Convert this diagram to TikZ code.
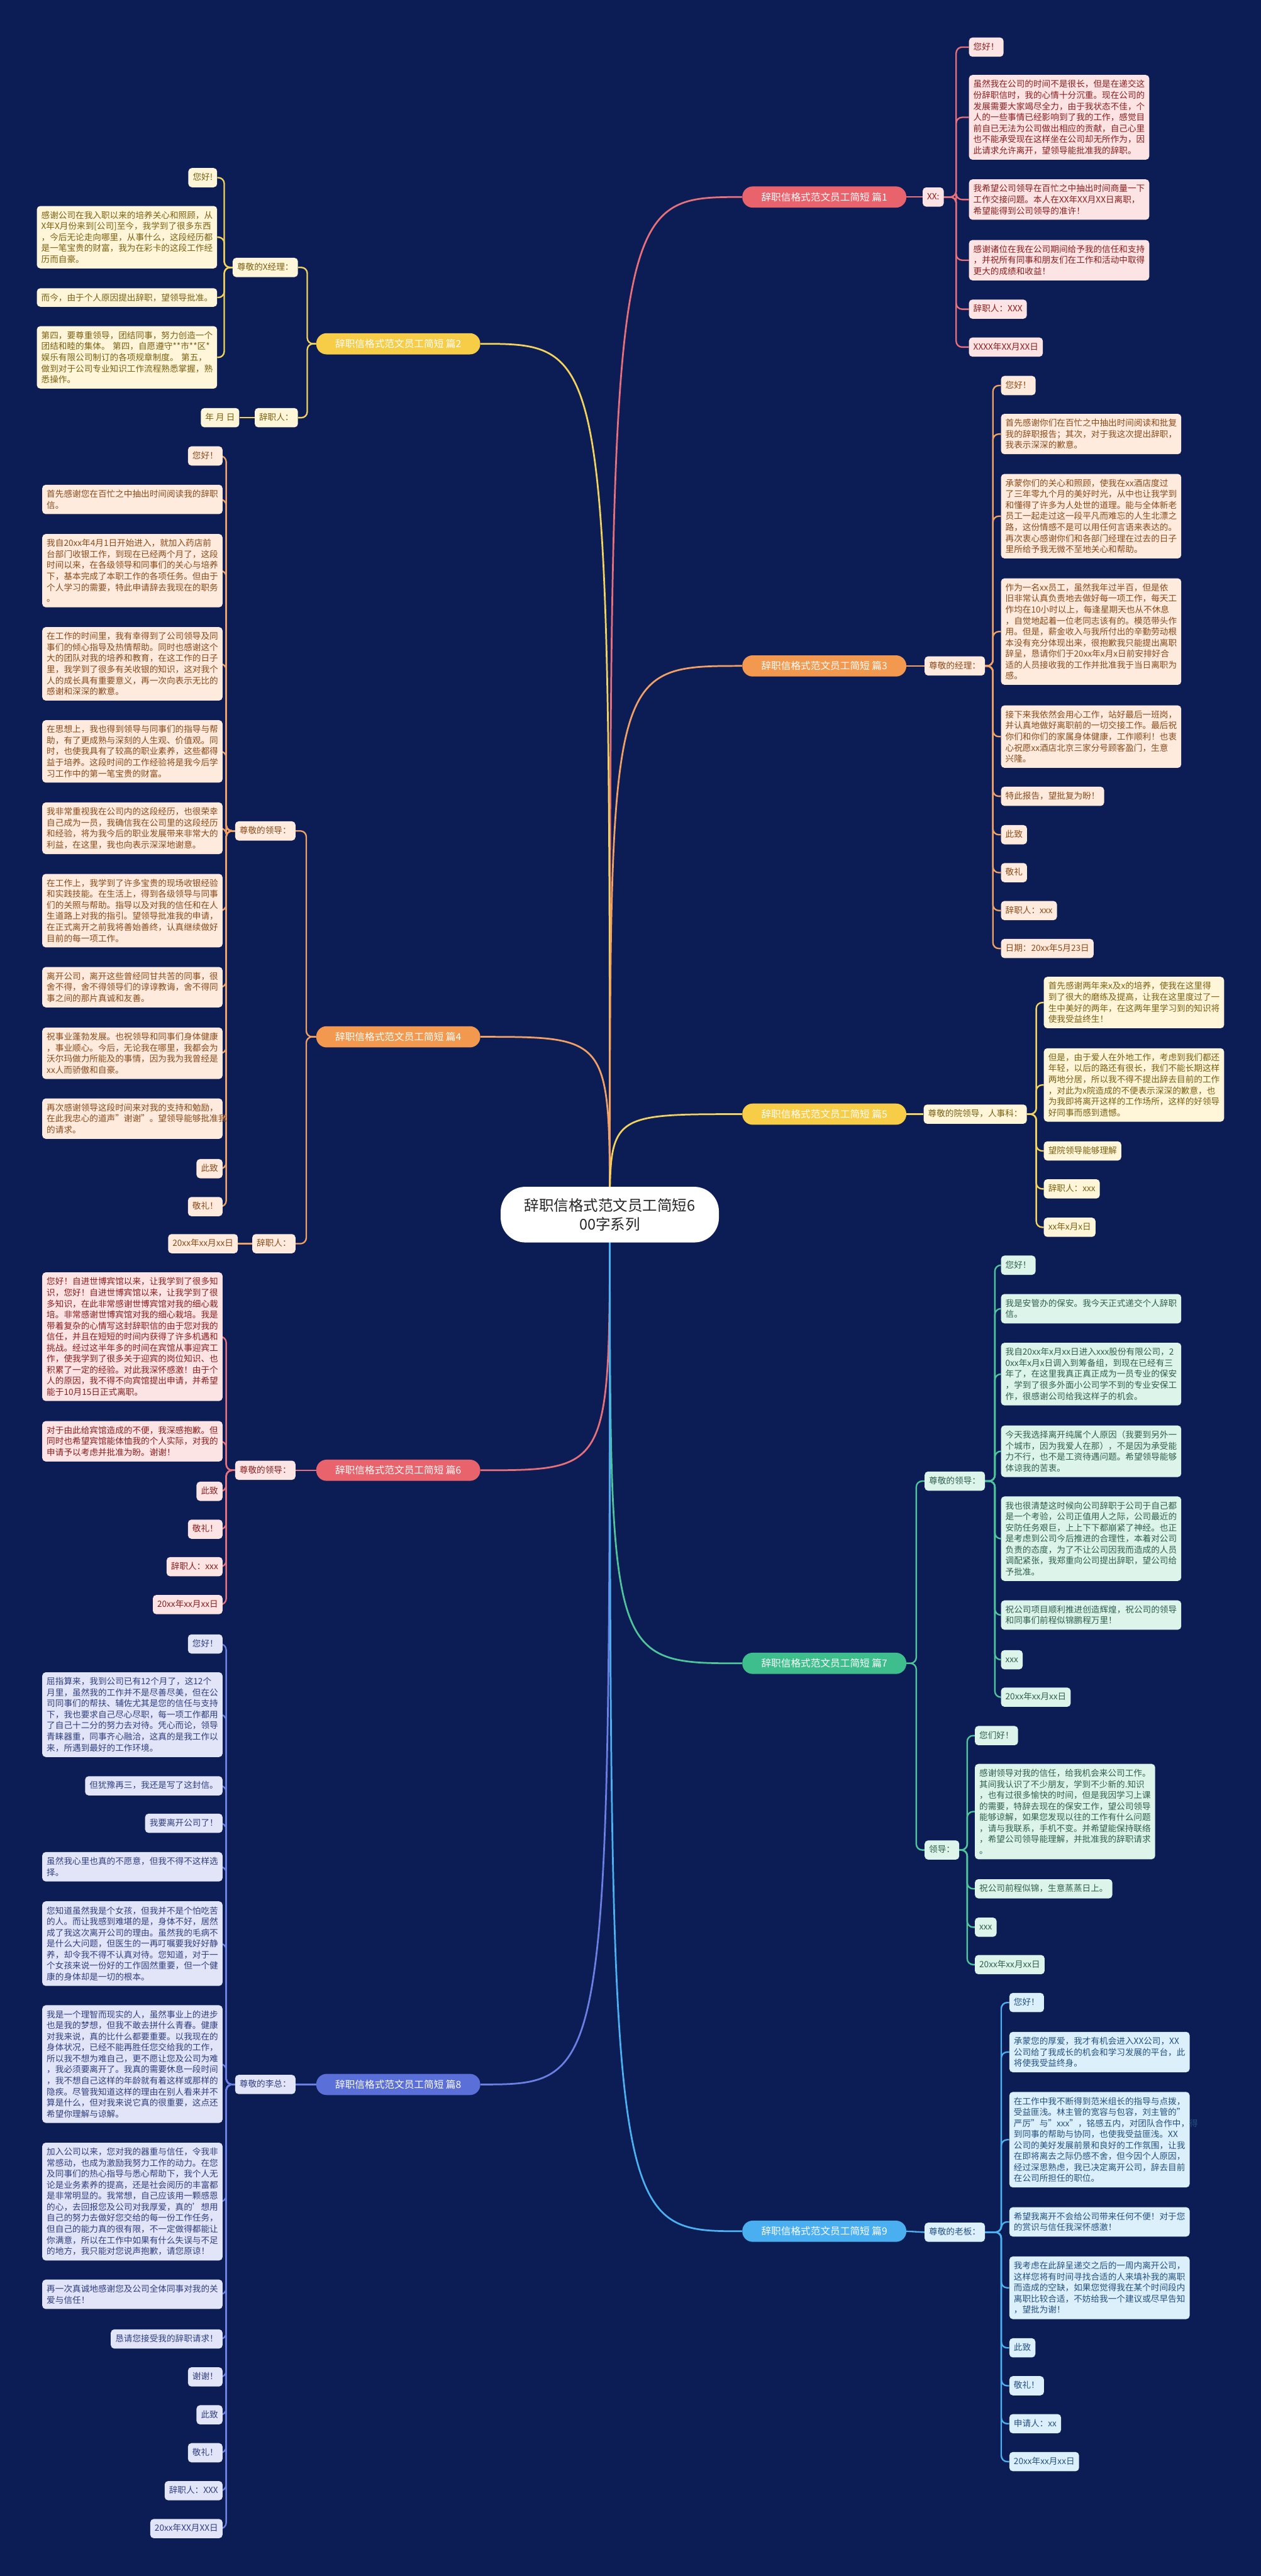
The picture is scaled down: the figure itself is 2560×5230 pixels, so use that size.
\documentclass[tikz,border=0pt]{standalone}
\usepackage{fontspec}
\setmainfont{Noto Sans CJK SC}
\pgfdeclarelayer{bg}\pgfdeclarelayer{lines}
\pgfsetlayers{bg,lines,main}
\definecolor{bgc}{HTML}{0C1C54}
\definecolor{lR}{HTML}{E8707A}\definecolor{fR}{HTML}{FCE4E4}\definecolor{tR}{HTML}{8B1E1E}\definecolor{pR}{HTML}{E8636C}
\definecolor{lY}{HTML}{F2D35B}\definecolor{fY}{HTML}{FFF6DA}\definecolor{tY}{HTML}{7A6010}\definecolor{pY}{HTML}{F7CC47}
\definecolor{lO}{HTML}{F2A165}\definecolor{fO}{HTML}{FEEBDD}\definecolor{tO}{HTML}{8A4A1A}\definecolor{pO}{HTML}{F3994F}
\definecolor{lG}{HTML}{4FC59B}\definecolor{fG}{HTML}{DDF4EB}\definecolor{tG}{HTML}{2F5F50}\definecolor{pG}{HTML}{3EBE8D}
\definecolor{lB}{HTML}{6C80E4}\definecolor{fB}{HTML}{E2E5F8}\definecolor{tB}{HTML}{303E80}\definecolor{pB}{HTML}{5B6FD8}
\definecolor{lC}{HTML}{4BB1F0}\definecolor{fC}{HTML}{DCF0FC}\definecolor{tC}{HTML}{235080}\definecolor{pC}{HTML}{4AAFF0}
\tikzset{
  lf/.style={rounded corners=7pt, inner xsep=9pt, inner ysep=10.5pt, font=\fontsize{17.4}{22.4}\selectfont, align=left},
  one/.style={lf, text height=14.5pt, text depth=3.5pt},
  par/.style={lf, text width=348pt},
  R/.style={anchor=north west},
  L/.style={anchor=north east},
  thR/.style={fill=fR, text=tR}, thY/.style={fill=fY, text=tY}, thO/.style={fill=fO, text=tO},
  thG/.style={fill=fG, text=tG}, thB/.style={fill=fB, text=tB}, thC/.style={fill=fC, text=tC},
  pl/.style={rounded corners=21pt, minimum height=43pt, minimum width=333pt, inner sep=0pt, text=white, font=\fontsize{20}{24}\selectfont},
  ctr/.style={fill=white, rounded corners=50pt, minimum width=443pt, minimum height=113pt, align=center, text=black!85, font=\fontsize{30}{38}\selectfont},
  con/.style={line width=3pt, rounded corners=12pt},
  mcon/.style={line width=3.5pt},
}
\begin{document}
\begin{tikzpicture}[x=1pt,y=-1pt]
\begin{pgfonlayer}{bg}
\fill[bgc] (0,0) rectangle (2560,5230);
\end{pgfonlayer}
\useasboundingbox (0,0) rectangle (2560,5230);

% root and main branches
\node[ctr] (root) at (1238,2466) {辞职信格式范文员工简短6\\00字系列};
\node[pl, fill=pR] (p1) at (1673.5,400) {辞职信格式范文员工简短 篇1};
\node[pl, fill=pY] (p2) at (808.5,698) {辞职信格式范文员工简短 篇2};
\node[pl, fill=pO] (p3) at (1673.5,1352) {辞职信格式范文员工简短 篇3};
\node[pl, fill=pO] (p4) at (808.5,2105) {辞职信格式范文员工简短 篇4};
\node[pl, fill=pY] (p5) at (1673.5,2262) {辞职信格式范文员工简短 篇5};
\node[pl, fill=pR] (p6) at (808.5,2985) {辞职信格式范文员工简短 篇6};
\node[pl, fill=pG] (p7) at (1673.5,3377) {辞职信格式范文员工简短 篇7};
\node[pl, fill=pB] (p8) at (808.5,4232) {辞职信格式范文员工简短 篇8};
\node[pl, fill=pC] (p9) at (1673.5,4530) {辞职信格式范文员工简短 篇9};

% ---------- branch 1
\node[one,thR,anchor=west] (b1x) at (1873,400) {XX:};
\node[one,thR,R] (b1a) at (1967,76) {您好！};
\node[par,thR,R] (b1b) at (1967,152) {虽然我在公司的时间不是很长，但是在递交这\\份辞职信时，我的心情十分沉重。现在公司的\\发展需要大家竭尽全力，由于我状态不佳，个\\人的一些事情已经影响到了我的工作，感觉目\\前自已无法为公司做出相应的贡献，自己心里\\也不能承受现在这样坐在公司却无所作为，因\\此请求允许离开，望领导能批准我的辞职。};
\node[par,thR,R] (b1c) at (1967,364) {我希望公司领导在百忙之中抽出时间商量一下\\工作交接问题。本人在XX年XX月XX日离职，\\希望能得到公司领导的准许！};
\node[par,thR,R] (b1d) at (1967,487) {感谢诸位在我在公司期间给予我的信任和支持\\，并祝所有同事和朋友们在工作和活动中取得\\更大的成绩和收益！};
\node[one,thR,R] (b1e) at (1967,608) {辞职人：XXX};
\node[one,thR,R] (b1f) at (1967,685) {XXXX年XX月XX日};

% ---------- branch 2
\node[one,thY,anchor=east] (b2x) at (605,543) {尊敬的X经理：};
\node[one,thY,anchor=east] (b2y) at (605,848) {辞职人：};
\node[one,thY,anchor=east] (b2z) at (486,848) {年 月 日};
\node[one,thY,L] (b2a) at (441,341) {您好!};
\node[par,thY,L] (b2b) at (441,418) {感谢公司在我入职以来的培养关心和照顾，从\\X年X月份来到[公司]至今，我学到了很多东西\\，今后无论走向哪里，从事什么，这段经历都\\是一笔宝贵的财富，我为在彩卡的这段工作经\\历而自豪。};
\node[par,thY,L] (b2c) at (441,585) {而今，由于个人原因提出辞职，望领导批准。};
\node[par,thY,L] (b2d) at (441,662) {第四，要尊重领导，团结同事，努力创造一个\\团结和睦的集体。~第四，自愿遵守**市**区*\\*娱乐有限公司制订的各项规章制度。~第五，\\做到对于公司专业知识工作流程熟悉掌握，熟\\悉操作。};

% ---------- branch 3
\node[one,thO,anchor=west] (b3x) at (1877,1352) {尊敬的经理：};
\node[one,thO,R] (b3a) at (2032,763) {您好！};
\node[par,thO,R] (b3b) at (2032,840) {首先感谢你们在百忙之中抽出时间阅读和批复\\我的辞职报告；其次，对于我这次提出辞职，\\我表示深深的歉意。};
\node[par,thO,R] (b3c) at (2032,962) {承蒙你们的关心和照顾，使我在xx酒店度过\\了三年零九个月的美好时光，从中也让我学到\\和懂得了许多为人处世的道理。能与全体新老\\员工一起走过这一段平凡而难忘的人生北漂之\\路，这份情感不是可以用任何言语来表达的。\\再次衷心感谢你们和各部门经理在过去的日子\\里所给予我无微不至地关心和帮助。};
\node[par,thO,R] (b3d) at (2032,1174) {作为一名xx员工，虽然我年过半百，但是依\\旧非常认真负责地去做好每一项工作，每天工\\作均在10小时以上，每逢星期天也从不休息\\，自觉地起着一位老同志该有的。模范带头作\\用。但是，薪金收入与我所付出的辛勤劳动根\\本没有充分体现出来，很抱歉我只能提出离职\\辞呈，恳请你们于20xx年x月x日前安排好合\\适的人员接收我的工作并批准我于当日离职为\\感。};
\node[par,thO,R] (b3e) at (2032,1432) {接下来我依然会用心工作，站好最后一班岗，\\并认真地做好离职前的一切交接工作。最后祝\\你们和你们的家属身体健康，工作顺利！也衷\\心祝愿xx酒店北京三家分号顾客盈门，生意\\兴隆。};
\node[one,thO,R] (b3f) at (2032,1597) {特此报告，望批复为盼！};
\node[one,thO,R] (b3g) at (2032,1675) {此致};
\node[one,thO,R] (b3h) at (2032,1752) {敬礼};
\node[one,thO,R] (b3i) at (2032,1829) {辞职人：xxx};
\node[one,thO,R] (b3j) at (2032,1906) {日期：20xx年5月23日};

% ---------- branch 4
\node[one,thO,anchor=east] (b4x) at (600,1687) {尊敬的领导：};
\node[one,thO,anchor=east] (b4y) at (600,2525) {辞职人：};
\node[one,thO,anchor=east] (b4z) at (483,2525) {20xx年xx月xx日};
\node[one,thO,L] (b4a) at (452,906) {您好！};
\node[par,thO,L] (b4b) at (452,984) {首先感谢您在百忙之中抽出时间阅读我的辞职\\信。};
\node[par,thO,L] (b4c) at (452,1084) {我自20xx年4月1日开始进入，就加入药店前\\台部门收银工作，到现在已经两个月了，这段\\时间以来，在各级领导和同事们的关心与培养\\下，基本完成了本职工作的各项任务。但由于\\个人学习的需要，特此申请辞去我现在的职务\\。};
\node[par,thO,L] (b4d) at (452,1273) {在工作的时间里，我有幸得到了公司领导及同\\事们的倾心指导及热情帮助。同时也感谢这个\\大的团队对我的培养和教育，在这工作的日子\\里，我学到了很多有关收银的知识，这对我个\\人的成长具有重要意义，再一次向表示无比的\\感谢和深深的歉意。};
\node[par,thO,L] (b4e) at (452,1462) {在思想上，我也得到领导与同事们的指导与帮\\助，有了更成熟与深刻的人生观、价值观。同\\时，也使我具有了较高的职业素养，这些都得\\益于培养。这段时间的工作经验将是我今后学\\习工作中的第一笔宝贵的财富。};
\node[par,thO,L] (b4f) at (452,1629) {我非常重视我在公司内的这段经历，也很荣幸\\自己成为一员，我确信我在公司里的这段经历\\和经验，将为我今后的职业发展带来非常大的\\利益，在这里，我也向表示深深地谢意。};
\node[par,thO,L] (b4g) at (452,1774) {在工作上，我学到了许多宝贵的现场收银经验\\和实践技能。在生活上，得到各级领导与同事\\们的关照与帮助。指导以及对我的信任和在人\\生道路上对我的指引。望领导批准我的申请，\\在正式离开之前我将善始善终，认真继续做好\\目前的每一项工作。};
\node[par,thO,L] (b4h) at (452,1963) {离开公司，离开这些曾经同甘共苦的同事，很\\舍不得，舍不得领导们的谆谆教诲，舍不得同\\事之间的那片真诚和友善。};
\node[par,thO,L] (b4i) at (452,2086) {祝事业蓬勃发展。也祝领导和同事们身体健康\\，事业顺心。今后，无论我在哪里，我都会为\\沃尔玛做力所能及的事情，因为我为我曾经是\\xx人而骄傲和自豪。};
\node[par,thO,L] (b4j) at (452,2230) {再次感谢领导这段时间来对我的支持和勉励，\\在此我忠心的道声"谢谢"。望领导能够批准我\\的请求。};
\node[one,thO,L] (b4k) at (452,2353) {此致};
\node[one,thO,L] (b4l) at (452,2430) {敬礼！};

% ---------- branch 5
\node[one,thY,anchor=west] (b5x) at (1875,2262) {尊敬的院领导，人事科：};
\node[par,thY,R] (b5a) at (2119,1983) {首先感谢两年来x及x的培养，使我在这里得\\到了很大的磨练及提高，让我在这里度过了一\\生中美好的两年，在这两年里学习到的知识将\\使我受益终生！};
\node[par,thY,R] (b5b) at (2119,2128) {但是，由于爱人在外地工作，考虑到我们都还\\年轻，以后的路还有很长，我们不能长期这样\\两地分居，所以我不得不提出辞去目前的工作\\，对此为x院造成的不便表示深深的歉意，也\\为我即将离开这样的工作场所，这样的好领导\\好同事而感到遗憾。};
\node[one,thY,R] (b5c) at (2119,2317) {望院领导能够理解};
\node[one,thY,R] (b5d) at (2119,2394) {辞职人：xxx};
\node[one,thY,R] (b5e) at (2119,2472) {xx年x月x日};

% ---------- branch 6
\node[one,thR,anchor=east] (b6x) at (600,2985) {尊敬的领导：};
\node[par,thR,L] (b6a) at (452,2583) {您好！自进世博宾馆以来，让我学到了很多知\\识，您好！自进世博宾馆以来，让我学到了很\\多知识，在此非常感谢世博宾馆对我的细心栽\\培。非常感谢世博宾馆对我的细心栽培。我是\\带着复杂的心情写这封辞职信的由于您对我的\\信任，并且在短短的时间内获得了许多机遇和\\挑战。经过这半年多的时间在宾馆从事迎宾工\\作，使我学到了很多关于迎宾的岗位知识、也\\积累了一定的经验。对此我深怀感激！由于个\\人的原因，我不得不向宾馆提出申请，并希望\\能于10月15日正式离职。};
\node[par,thR,L] (b6b) at (452,2885) {对于由此给宾馆造成的不便，我深感抱歉。但\\同时也希望宾馆能体恤我的个人实际，对我的\\申请予以考虑并批准为盼。谢谢！};
\node[one,thR,L] (b6c) at (452,3008) {此致};
\node[one,thR,L] (b6d) at (452,3085) {敬礼！};
\node[one,thR,L] (b6e) at (452,3161) {辞职人：xxx};
\node[one,thR,L] (b6f) at (452,3238) {20xx年xx月xx日};

% ---------- branch 7
\node[one,thG,anchor=west] (b7x) at (1877,3007) {尊敬的领导：};
\node[one,thG,anchor=west] (b7y) at (1877,3756) {领导：};
\node[one,thG,R] (b7a) at (2032,2549) {您好！};
\node[par,thG,R] (b7b) at (2032,2627) {我是安管办的保安。我今天正式递交个人辞职\\信。};
\node[par,thG,R] (b7c) at (2032,2726) {我自20xx年x月xx日进入xxx股份有限公司，2\\0xx年x月x日调入到筹备组，到现在已经有三\\年了，在这里我真正真正成为一员专业的保安\\，学到了很多外面小公司学不到的专业安保工\\作，很感谢公司给我这样子的机会。};
\node[par,thG,R] (b7d) at (2032,2894) {今天我选择离开纯属个人原因（我要到另外一\\个城市，因为我爱人在那），不是因为承受能\\力不行，也不是工资待遇问题。希望领导能够\\体谅我的苦衷。};
\node[par,thG,R] (b7e) at (2032,3038) {我也很清楚这时候向公司辞职于公司于自己都\\是一个考验，公司正值用人之际，公司最近的\\安防任务艰巨，上上下下都崩紧了神经。也正\\是考虑到公司今后推进的合理性，本着对公司\\负责的态度，为了不让公司因我而造成的人员\\调配紧张，我郑重向公司提出辞职，望公司给\\予批准。};
\node[par,thG,R] (b7f) at (2032,3249) {祝公司项目顺利推进创造辉煌，祝公司的领导\\和同事们前程似锦鹏程万里！};
\node[one,thG,R] (b7g) at (2032,3350) {xxx};
\node[one,thG,R] (b7h) at (2032,3426) {20xx年xx月xx日};
\node[one,thG,R] (b7i) at (1979,3504) {您们好！};
\node[par,thG,R] (b7j) at (1979,3581) {感谢领导对我的信任，给我机会来公司工作。\\其间我认识了不少朋友，学到不少新的.知识\\，也有过很多愉快的时间，但是我因学习上课\\的需要，特辞去现在的保安工作，望公司领导\\能够谅解，如果您发现以往的工作有什么问题\\，请与我联系，手机不变。并希望能保持联络\\，希望公司领导能理解，并批准我的辞职请求\\。};
\node[one,thG,R] (b7k) at (1979,3815) {祝公司前程似锦，生意蒸蒸日上。};
\node[one,thG,R] (b7l) at (1979,3893) {xxx};
\node[one,thG,R] (b7m) at (1979,3969) {20xx年xx月xx日};

% ---------- branch 8
\node[one,thB,anchor=east] (b8x) at (600,4232) {尊敬的李总：};
\node[one,thB,L] (b8a) at (452,3318) {您好！};
\node[par,thB,L] (b8b) at (452,3395) {屈指算来，我到公司已有12个月了，这12个\\月里，虽然我的工作并不是尽善尽美，但在公\\司同事们的帮扶、辅佐尤其是您的信任与支持\\下，我也要求自己尽心尽职，每一项工作都用\\了自己十二分的努力去对待。凭心而论，领导\\青睐器重，同事齐心融洽，这真的是我工作以\\来，所遇到最好的工作环境。};
\node[one,thB,L] (b8c) at (452,3606) {但犹豫再三，我还是写了这封信。};
\node[one,thB,L] (b8d) at (452,3682) {我要离开公司了！};
\node[par,thB,L] (b8e) at (452,3760) {虽然我心里也真的不愿意，但我不得不这样选\\择。};
\node[par,thB,L] (b8f) at (452,3860) {您知道虽然我是个女孩，但我并不是个怕吃苦\\的人。而让我感到难堪的是，身体不好，居然\\成了我这次离开公司的理由。虽然我的毛病不\\是什么大问题，但医生的一再叮嘱要我好好静\\养，却令我不得不认真对待。您知道，对于一\\个女孩来说一份好的工作固然重要，但一个健\\康的身体却是一切的根本。};
\node[par,thB,L] (b8g) at (452,4071) {我是一个理智而现实的人，虽然事业上的进步\\也是我的梦想，但我不敢去拼什么青春。健康\\对我来说，真的比什么都要重要。以我现在的\\身体状况，已经不能再胜任您交给我的工作，\\所以我不想为难自己，更不愿让您及公司为难\\，我必须要离开了。我真的需要休息一段时间\\，我不想自己这样的年龄就有着这样或那样的\\隐疾。尽管我知道这样的理由在别人看来并不\\算是什么，但对我来说它真的很重要，这点还\\希望你理解与谅解。};
\node[par,thB,L] (b8h) at (452,4350) {加入公司以来，您对我的器重与信任，令我非\\常感动，也成为激励我努力工作的动力。在您\\及同事们的热心指导与悉心帮助下，我个人无\\论是业务素养的提高，还是社会阅历的丰富都\\是非常明显的。我常想，自己应该用一颗感恩\\的心，去回报您及公司对我厚爱，真的'想用\\自己的努力去做好您交给的每一份工作任务，\\但自己的能力真的很有限，不一定做得都能让\\你满意，所以在工作中如果有什么失误与不足\\的地方，我只能对您说声抱歉，请您原谅！};
\node[par,thB,L] (b8i) at (452,4628) {再一次真诚地感谢您及公司全体同事对我的关\\爱与信任！};
\node[one,thB,L] (b8j) at (452,4729) {恳请您接受我的辞职请求！};
\node[one,thB,L] (b8k) at (452,4806) {谢谢！};
\node[one,thB,L] (b8l) at (452,4883) {此致};
\node[one,thB,L] (b8m) at (452,4960) {敬礼！};
\node[one,thB,L] (b8n) at (452,5037) {辞职人：XXX};
\node[one,thB,L] (b8o) at (452,5114) {20xx年XX月XX日};

% ---------- branch 9
\node[one,thC,anchor=west] (b9x) at (1877,4532) {尊敬的老板：};
\node[one,thC,R] (b9a) at (2049,4046) {您好！};
\node[par,thC,R] (b9b) at (2049,4125) {承蒙您的厚爱，我才有机会进入XX公司，XX\\公司给了我成长的机会和学习发展的平台，此\\将使我受益终身。};
\node[par,thC,R] (b9c) at (2049,4247) {在工作中我不断得到范米组长的指导与点拨，\\受益匪浅。林主管的宽容与包容，刘主管的"\\严厉"与"xxx"，铭感五内，对团队合作中，得\\到同事的帮助与协同，也使我受益匪浅。XX\\公司的美好发展前景和良好的工作氛围，让我\\在即将离去之际仍感不舍，但今因个人原因，\\经过深思熟虑，我已决定离开公司，辞去目前\\在公司所担任的职位。};
\node[par,thC,R] (b9d) at (2049,4481) {希望我离开不会给公司带来任何不便！对于您\\的赏识与信任我深怀感激！};
\node[par,thC,R] (b9e) at (2049,4581) {我考虑在此辞呈递交之后的一周内离开公司，\\这样您将有时间寻找合适的人来填补我的离职\\而造成的空缺，如果您觉得我在某个时间段内\\离职比较合适，不妨给我一个建议或尽早告知\\，望批为谢！};
\node[one,thC,R] (b9f) at (2049,4747) {此致};
\node[one,thC,R] (b9g) at (2049,4824) {敬礼！};
\node[one,thC,R] (b9h) at (2049,4901) {申请人：xx};
\node[one,thC,R] (b9i) at (2049,4978) {20xx年xx月xx日};

% ---------- connectors
\begin{pgfonlayer}{lines}
\draw[mcon,lR] (root.center) .. controls (root.center |- p1.west) .. (p1.west);
\draw[mcon,lY] (root.center) .. controls (root.center |- p2.east) .. (p2.east);
\draw[mcon,lO] (root.center) .. controls (root.center |- p3.west) .. (p3.west);
\draw[mcon,lO] (root.center) .. controls (root.center |- p4.east) .. (p4.east);
\draw[mcon,lY] (root.center) .. controls (root.center |- p5.west) .. (p5.west);
\draw[mcon,lR] (root.center) .. controls (root.center |- p6.east) .. (p6.east);
\draw[mcon,lG] (root.center) .. controls (root.center |- p7.west) .. (p7.west);
\draw[mcon,lB] (root.center) .. controls (root.center |- p8.east) .. (p8.east);
\draw[mcon,lC] (root.center) .. controls (root.center |- p9.west) .. (p9.west);

\draw[con,lR] (p1.east) -- (b1x.west);
\foreach \n in {b1a,b1b,b1c,b1d,b1e,b1f} \draw[con,lR] (b1x.east) -- ++(25,0) |- (\n.west);

\draw[con,lY] (p2.west) -- ++(-18,0) |- (b2x.east);
\draw[con,lY] (p2.west) -- ++(-18,0) |- (b2y.east);
\draw[con,lY] (b2y.west) -- (b2z.east);
\foreach \n in {b2a,b2b,b2c,b2d} \draw[con,lY] (b2x.west) -- ++(-17,0) |- (\n.east);

\draw[con,lO] (p3.east) -- (b3x.west);
\foreach \n in {b3a,b3b,b3c,b3d,b3e,b3f,b3g,b3h,b3i,b3j} \draw[con,lO] (b3x.east) -- ++(16,0) |- (\n.west);

\draw[con,lO] (p4.west) -- ++(-20,0) |- (b4x.east);
\draw[con,lO] (p4.west) -- ++(-20,0) |- (b4y.east);
\draw[con,lO] (b4y.west) -- (b4z.east);
\foreach \n in {b4a,b4b,b4c,b4d,b4e,b4f,b4g,b4h,b4i,b4j,b4k,b4l} \draw[con,lO] (b4x.west) -- ++(-18,0) |- (\n.east);

\draw[con,lY] (p5.east) -- (b5x.west);
\foreach \n in {b5a,b5b,b5c,b5d,b5e} \draw[con,lY] (b5x.east) -- ++(19,0) |- (\n.west);

\draw[con,lR] (p6.west) -- (b6x.east);
\foreach \n in {b6a,b6b,b6c,b6d,b6e,b6f} \draw[con,lR] (b6x.west) -- ++(-18,0) |- (\n.east);

\draw[con,lG] (p7.east) -- ++(20,0) |- (b7x.west);
\draw[con,lG] (p7.east) -- ++(20,0) |- (b7y.west);
\foreach \n in {b7a,b7b,b7c,b7d,b7e,b7f,b7g,b7h} \draw[con,lG] (b7x.east) -- ++(20,0) |- (\n.west);
\foreach \n in {b7i,b7j,b7k,b7l,b7m} \draw[con,lG] (b7y.east) -- ++(16,0) |- (\n.west);

\draw[con,lB] (p8.west) -- (b8x.east);
\foreach \n in {b8a,b8b,b8c,b8d,b8e,b8f,b8g,b8h,b8i,b8j,b8k,b8l,b8m,b8n,b8o} \draw[con,lB] (b8x.west) -- ++(-18,0) |- (\n.east);

\draw[con,lC] (p9.east) -- (b9x.west);
\foreach \n in {b9a,b9b,b9c,b9d,b9e,b9f,b9g,b9h,b9i} \draw[con,lC] (b9x.east) -- ++(33,0) |- (\n.west);
\end{pgfonlayer}
\end{tikzpicture}
\end{document}
